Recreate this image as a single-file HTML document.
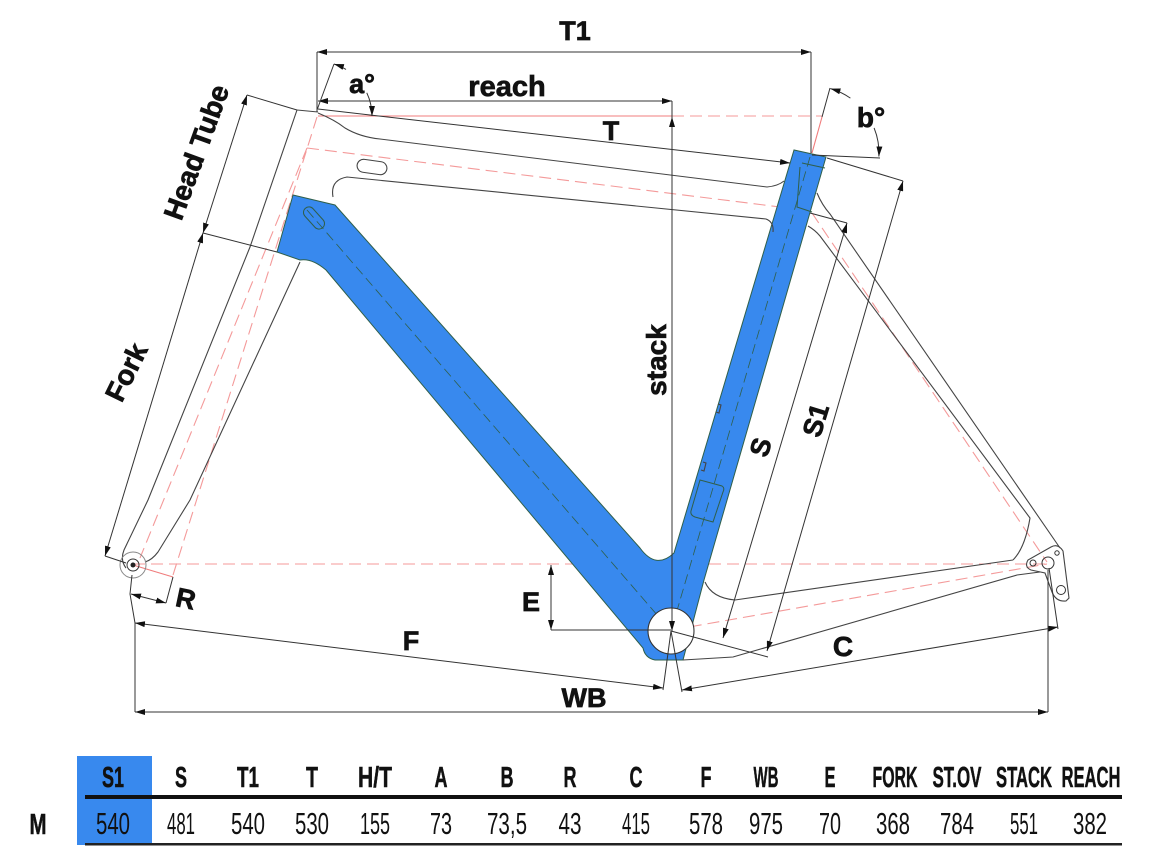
<!DOCTYPE html>
<html><head><meta charset="utf-8"><style>
html,body{margin:0;padding:0;background:#fff;}
svg{display:block;}
text{font-family:"Liberation Sans",Arial,sans-serif;}
</style></head><body>
<svg width="1150" height="858" viewBox="0 0 1150 858" xmlns="http://www.w3.org/2000/svg">
<defs>
<marker id="a" viewBox="0 0 10 6" refX="10" refY="3" markerWidth="10" markerHeight="6" markerUnits="userSpaceOnUse" orient="auto-start-reverse"><path d="M0,0 L10,3 L0,6 z" fill="#111"/></marker>
</defs>
<rect width="1150" height="858" fill="#fff"/>

<!-- red reference lines -->
<g fill="none" stroke="#f07c7c" stroke-width="1.1">
<path d="M318,116 L672,116"/>
<path d="M812,153 L822,117"/>
<path d="M133,565 L173,577"/>
</g>
<g fill="none" stroke="#f49a9a" stroke-width="1.1" stroke-dasharray="12,6">
<path d="M672,116 L822,116"/>
<path d="M317,117 L173,575"/>
<path d="M307,148 L140,558"/>
<path d="M307,148 L780,207"/>
<path d="M133,564 L1047,564"/>
<path d="M672,630 L1047,564"/>
<path d="M812,213 L1047,562"/>
</g>

<!-- blue tubes -->
<path d="M293,195 L335,205 L640,548 Q656,570 674,553 L794,150 L826,157 L704,580 L683,660 L655,660 Q645,658 643,648 L326,270 Q312,258 300,260 L277,252 Z" fill="#3889ee" stroke="#2f5f4a" stroke-width="1"/>
<g fill="none" stroke="#2f5f4a" stroke-width="0.8" stroke-dasharray="10,5">
<path d="M307,210 L671,631"/>
<path d="M810,157 L671,631"/>
</g>
<g fill="none" stroke="#2f5f4a" stroke-width="1">
<path d="M802,163 L825,168"/>
<path d="M800,167 L797,207 L812,212"/>
<path d="M700,480 L722,486 Q725,488 723,492 L713,522 L695,517 Q690,515 691,511 Z"/>
<rect x="-13" y="-5.5" width="26" height="11" rx="5.5" transform="translate(314,218) rotate(48)"/>
</g>
<circle cx="671" cy="631" r="23" fill="#fff" stroke="#333" stroke-width="1.1"/>

<!-- frame outlines -->
<g fill="none" stroke="#444" stroke-width="1.1">
<path d="M297,110 L250,247 L148,500 L124,550 Q120,560 126,568"/>
<path d="M300,262 L190,500 L158,552 Q152,560 145,562"/>
<path d="M297,110 L318,112"/>
<path d="M318,113 Q335,120 345,128 Q360,137 380,139 L767,187 Q778,186 784,181"/>
<path d="M333,197 Q330,180 347,177 L766,219 Q774,222 773,232"/>
<path d="M817,193 Q822,205 830,214 L1060,548"/>
<path d="M808,226 Q815,230 820,236 L1030,518 Q1025,548 1013,560"/>
<path d="M705,582 Q712,598 735,600 L1013,560"/>
<path d="M683,660 L733,657 L1017,575 L1040,572"/>
<path d="M1028,560 Q1024,567 1031,570 L1045,573 L1052,592 Q1056,602 1066,601 L1069,598 L1063,551 Q1058,543 1051,547 Z"/>
<rect x="-15" y="-6.5" width="30" height="13" rx="6.5" transform="translate(372,167) rotate(8)"/>
<path d="M718,404 l3,1 l-2,8 l-3,-1"/>
<path d="M703,462 l3,1 l-2,8 l-3,-1"/>
</g>
<g fill="none" stroke="#333" stroke-width="1">
<circle cx="1048" cy="563" r="6"/>
<circle cx="1033" cy="563" r="3"/>
<circle cx="1057" cy="553" r="2.2"/>
<circle cx="1061" cy="590" r="4.5"/>
<circle cx="133" cy="565" r="6"/>
<circle cx="133" cy="565" r="13" stroke="#888"/>
</g>
<circle cx="133" cy="565" r="2.5" fill="#222"/>

<!-- dimension lines -->
<g fill="none" stroke="#333" stroke-width="1">
<path d="M317,52 L811,52" marker-start="url(#a)" marker-end="url(#a)"/>
<path d="M317,52 L317,112"/>
<path d="M811,52 L811,153"/>
<path d="M318,101 L672,101" marker-start="url(#a)" marker-end="url(#a)"/>
<path d="M672,101 L672,117"/>
<path d="M672,117 L672,631" marker-start="url(#a)" marker-end="url(#a)"/>
<path d="M318,109 L790,163" marker-end="url(#a)"/>
<path d="M317,110 L334,64"/>
<path d="M334,64 A55,55 0 0 1 346,69.4" marker-start="url(#a)"/>
<path d="M366.8,92.8 A55,55 0 0 1 372,116" marker-end="url(#a)"/>
<path d="M822,117 L830,88"/>
<path d="M812,155 L880,158"/>
<path d="M830.5,88.6 A67,67 0 0 1 850.4,98.1" marker-start="url(#a)"/>
<path d="M874.1,127.9 A67,67 0 0 1 878.9,156.5" marker-end="url(#a)"/>
<path d="M247,95 L203,233" marker-start="url(#a)" marker-end="url(#a)"/>
<path d="M203,233 L105,556" marker-start="url(#a)" marker-end="url(#a)"/>
<path d="M247,95 L297,110"/>
<path d="M203,233 L277,252"/>
<path d="M105,556 L126,563"/>
<path d="M173,577 L166,603"/>
<path d="M166,603 L131,594" marker-start="url(#a)" marker-end="url(#a)"/>
<path d="M132,575 L130,594 L135,623"/>
<path d="M135,623 L663,688" marker-start="url(#a)" marker-end="url(#a)"/>
<path d="M671,631 L663,690"/>
<path d="M682,690 L1058,627" marker-start="url(#a)" marker-end="url(#a)"/>
<path d="M671,631 L682,692"/>
<path d="M1049,568 L1058,629"/>
<path d="M135,712 L1048,712" marker-start="url(#a)" marker-end="url(#a)"/>
<path d="M135,623 L135,712"/>
<path d="M1048,570 L1048,712"/>
<path d="M551,565 L551,630" marker-start="url(#a)" marker-end="url(#a)"/>
<path d="M551,630 L671,630"/>
<path d="M847,223 L723,638" marker-start="url(#a)" marker-end="url(#a)"/>
<path d="M810,213 L847,223"/>
<path d="M671,631 L768,657"/>
<path d="M903,181 L767,651" marker-start="url(#a)" marker-end="url(#a)"/>
<path d="M827,158 L903,181"/>
</g>

<!-- diagram labels -->
<g font-weight="bold" fill="#111" stroke="#111" stroke-width="0.7">
<text x="575" y="40" font-size="27" text-anchor="middle">T1</text>
<text x="507" y="96" font-size="29" text-anchor="middle">reach</text>
<text x="362" y="93" font-size="27" text-anchor="middle">a°</text>
<text x="611" y="140" font-size="27" text-anchor="middle">T</text>
<text x="871" y="127" font-size="28" text-anchor="middle">b°</text>
<text transform="translate(196,152) rotate(-70)" x="0" y="10" font-size="28" text-anchor="middle">Head Tube</text>
<text transform="translate(126,372) rotate(-64)" x="0" y="10" font-size="28" text-anchor="middle">Fork</text>
<text transform="translate(656,360) rotate(-90)" x="0" y="10" font-size="28" text-anchor="middle">stack</text>
<text transform="translate(760,447) rotate(-73)" x="0" y="10" font-size="27" text-anchor="middle">S</text>
<text transform="translate(815,420) rotate(-73)" x="0" y="10" font-size="27" text-anchor="middle">S1</text>
<text x="531" y="611" font-size="27" text-anchor="middle">E</text>
<text transform="translate(186,598) rotate(12)" x="0" y="10" font-size="27" text-anchor="middle">R</text>
<text x="411" y="650" font-size="27" text-anchor="middle">F</text>
<text x="843" y="656" font-size="28" text-anchor="middle">C</text>
<text x="584" y="707" font-size="27" text-anchor="middle">WB</text>
</g>

<!-- table -->
<rect x="77" y="756" width="75" height="89" fill="#3889ee"/>
<rect x="85" y="795" width="1037" height="4" fill="#111"/>
<rect x="85" y="843" width="1037" height="2.5" fill="#222"/>
<g font-weight="bold" font-size="29" fill="#111" stroke="#111" stroke-width="0.5" text-anchor="middle">
<text x="113" y="787" textLength="22" lengthAdjust="spacingAndGlyphs">S1</text>
<text x="181" y="787" textLength="12" lengthAdjust="spacingAndGlyphs">S</text>
<text x="248" y="787" textLength="22" lengthAdjust="spacingAndGlyphs">T1</text>
<text x="312" y="787" textLength="12" lengthAdjust="spacingAndGlyphs">T</text>
<text x="375" y="787" textLength="34" lengthAdjust="spacingAndGlyphs">H/T</text>
<text x="441" y="787" textLength="13" lengthAdjust="spacingAndGlyphs">A</text>
<text x="507" y="787" textLength="13" lengthAdjust="spacingAndGlyphs">B</text>
<text x="570" y="787" textLength="13" lengthAdjust="spacingAndGlyphs">R</text>
<text x="636" y="787" textLength="13" lengthAdjust="spacingAndGlyphs">C</text>
<text x="706" y="787" textLength="11" lengthAdjust="spacingAndGlyphs">F</text>
<text x="766" y="787" textLength="25" lengthAdjust="spacingAndGlyphs">WB</text>
<text x="830" y="787" textLength="11" lengthAdjust="spacingAndGlyphs">E</text>
<text x="895" y="787" textLength="45" lengthAdjust="spacingAndGlyphs">FORK</text>
<text x="957" y="787" textLength="49" lengthAdjust="spacingAndGlyphs">ST.OV</text>
<text x="1024" y="787" textLength="56" lengthAdjust="spacingAndGlyphs">STACK</text>
<text x="1091" y="787" textLength="59" lengthAdjust="spacingAndGlyphs">REACH</text>
<text x="38" y="834" textLength="17" lengthAdjust="spacingAndGlyphs">M</text>
</g>
<g font-size="31" fill="#111" text-anchor="middle">
<text x="113" y="834" textLength="34" lengthAdjust="spacingAndGlyphs">540</text>
<text x="181" y="834" textLength="28" lengthAdjust="spacingAndGlyphs">481</text>
<text x="248" y="834" textLength="34" lengthAdjust="spacingAndGlyphs">540</text>
<text x="312" y="834" textLength="34" lengthAdjust="spacingAndGlyphs">530</text>
<text x="375" y="834" textLength="30" lengthAdjust="spacingAndGlyphs">155</text>
<text x="441" y="834" textLength="22" lengthAdjust="spacingAndGlyphs">73</text>
<text x="507" y="834" textLength="40" lengthAdjust="spacingAndGlyphs">73,5</text>
<text x="570" y="834" textLength="23" lengthAdjust="spacingAndGlyphs">43</text>
<text x="636" y="834" textLength="28" lengthAdjust="spacingAndGlyphs">415</text>
<text x="706" y="834" textLength="34" lengthAdjust="spacingAndGlyphs">578</text>
<text x="766" y="834" textLength="34" lengthAdjust="spacingAndGlyphs">975</text>
<text x="830" y="834" textLength="22" lengthAdjust="spacingAndGlyphs">70</text>
<text x="893" y="834" textLength="34" lengthAdjust="spacingAndGlyphs">368</text>
<text x="957" y="834" textLength="34" lengthAdjust="spacingAndGlyphs">784</text>
<text x="1024" y="834" textLength="28" lengthAdjust="spacingAndGlyphs">551</text>
<text x="1090" y="834" textLength="34" lengthAdjust="spacingAndGlyphs">382</text>
</g>
</svg>
</body></html>
